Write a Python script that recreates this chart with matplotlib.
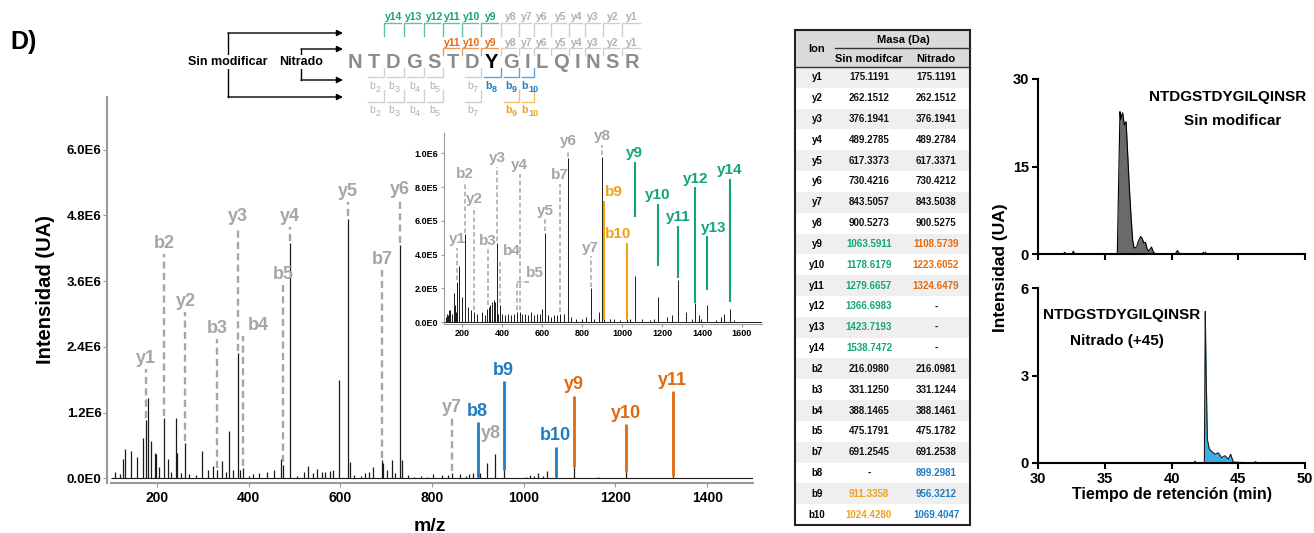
import numpy as np
import matplotlib
matplotlib.use('Agg')
import matplotlib.pyplot as plt
from matplotlib.font_manager import FontProperties

plt.rcParams['font.family'] = ['Liberation Sans', 'DejaVu Sans']

W, H = 1314, 533

# colours
c_green = '#14a37c'
c_orange = '#e2690f'
c_blue = '#1f7dc2'
c_gold = '#eea215'
c_grey = '#a6a6a6'
c_seq = '#8c8c8c'

# ---------------- fragment table (Da)
ion_names = ['y1', 'y2', 'y3', 'y4', 'y5', 'y6', 'y7', 'y8', 'y9', 'y10', 'y11', 'y12', 'y13', 'y14',
             'b2', 'b3', 'b4', 'b5', 'b7', 'b8', 'b9', 'b10']
mass_unmod = [175.1191, 262.1512, 376.1941, 489.2785, 617.3373, 730.4216, 843.5057, 900.5273,
              1063.5911, 1178.6179, 1279.6657, 1366.6983, 1423.7193, 1538.7472,
              216.0980, 331.1250, 388.1465, 475.1791, 691.2545, None, 911.3358, 1024.4280]
mass_nitr = [175.1191, 262.1512, 376.1941, 489.2784, 617.3371, 730.4212, 843.5038, 900.5275,
             1108.5739, 1223.6052, 1324.6479, None, None, None,
             216.0981, 331.1244, 388.1461, 475.1782, 691.2538, 899.2981, 956.3212, 1069.4047]

# ---------------- MS/MS spectrum, nitrated peptide (intensity x1E6)
spec_mz = [108, 119, 126.5, 130, 142.6, 155.7, 168.8, 175.1, 180, 186, 195.6, 198, 205, 216.1, 224.7,
           230, 241, 244, 252, 262.2, 270, 285, 297.5, 311, 322, 331.1, 341, 350, 357.8, 365, 376.2,
           380, 388.1, 400, 410, 423, 439, 455, 470.5, 475.2, 489.3, 505, 520.8, 530, 541, 550, 559,
           566.5, 577.5, 585, 598, 617.3, 621, 630, 645, 654, 663, 672, 691.3, 694, 701, 712, 719,
           730.4, 734, 747.7, 760, 775, 790, 803, 821, 835, 843.5, 861, 875, 881, 890, 900.5, 905,
           919.4, 937.5, 956.3, 1004.5, 1014, 1022.6, 1032, 1041, 1050, 1069.4, 1108.6, 1163,
           1223.6, 1324.6]
spec_int = [0.11, 0.08, 0.36, 0.53, 0.49, 0.38, 0.73, 1.06, 1.46, 0.68, 0.47, 0.45, 0.2, 1.1, 0.36,
            0.12, 1.1, 0.47, 0.1, 0.64, 0.08, 0.06, 0.49, 0.15, 0.22, 0.15, 0.32, 0.12, 0.86, 0.15, 2.28,
            0.15, 0.18, 0.05, 0.07, 0.1, 0.12, 0.15, 0.36, 0.25, 4.29, 0.05, 0.12, 0.22, 0.1, 0.17, 0.12,
            0.12, 0.13, 0.15, 1.79, 4.74, 0.3, 0.06, 0.05, 0.1, 0.12, 0.2, 0.33, 0.28, 0.15, 0.33, 0.1,
            4.25, 0.33, 0.06, 0.03, 0.04, 0.03, 0.08, 0.06, 0.06, 0.1, 0.08, 0.05, 0.07, 0.09, 0.75, 0.1,
            0.27, 0.44, 0.15, 0.03, 0.06, 0.05, 0.1, 0.05, 0.13, 0.05, 0.2, 0.03,
            0.12, 0.05]

nit_grey_ions = ['y1', 'b2', 'y2', 'b3', 'y3', 'b4', 'b5', 'y4', 'y5', 'b7', 'y6', 'y7', 'y8']
nit_grey_top = [2.0, 4.1, 3.03, 2.55, 4.58, 2.6, 3.52, 4.58, 5.04, 3.8, 5.07, 1.1, 0.75]
nit_col_ions = ['b8', 'b9', 'b10', 'y9', 'y10', 'y11']
nit_col_top = [1.02, 1.77, 0.58, 1.51, 0.99, 1.59]
nit_col_base = [0.03, 0.15, 0.02, 0.2, 0.12, 0.05]

# ---------------- inset spectrum, unmodified peptide (x1E6)
ins_mz = [118, 125, 130, 136, 142, 150, 158, 163, 170, 175.1, 186.1, 198, 216.1, 230, 244, 262.2,
          275, 299, 315, 324, 333, 341, 350, 358, 366, 376.2, 381, 388.1, 400, 415, 430, 445, 460,
          475.2, 489.3, 498, 515, 530, 545, 560, 575, 590, 600, 617.3, 630, 645, 660, 675, 691.3,
          710, 730.4, 745, 770, 800, 820, 843.5, 860, 883, 900.5, 911.3, 940, 960, 990, 1024.4,
          1040, 1063.6, 1100, 1140, 1160, 1178.6, 1226, 1249, 1279.7, 1318, 1350, 1366.7, 1384,
          1395, 1423.7, 1470, 1497, 1509, 1538.7, 1560]
ins_int = [0.03, 0.05, 0.04, 0.07, 0.07, 0.05, 0.17, 0.1, 0.06, 0.24, 0.33, 0.15, 0.52, 0.09, 0.07,
           0.06, 0.05, 0.06, 0.04, 0.08, 0.09, 0.1, 0.12, 0.13, 0.12, 0.47, 0.05, 0.1, 0.05, 0.04,
           0.05, 0.04, 0.05, 0.06, 0.06, 0.05, 0.05, 0.04, 0.06, 0.04, 0.05, 0.05, 0.08, 0.53, 0.04,
           0.03, 0.04, 0.04, 0.05, 0.05, 0.97, 0.03, 0.02, 0.02, 0.03, 0.2, 0.02, 0.06, 0.98, 0.05,
           0.02, 0.02, 0.01, 0.02, 0.02, 0.27, 0.02, 0.01, 0.02, 0.15, 0.03, 0.04, 0.25, 0.06, 0.02,
           0.11, 0.04, 0.02, 0.1, 0.01, 0.03, 0.05, 0.08, 0.01]

unm_grey_ions = ['y1', 'b2', 'y2', 'b3', 'y3', 'b4', 'b5', 'y4', 'y5', 'b7', 'y6', 'y7', 'y8']
unm_grey_top = [0.44, 0.83, 0.68, 0.43, 0.92, 0.37, 0.24, 0.88, 0.61, 0.82, 1.02, 0.39, 1.05]
unm_col_ions = ['b9', 'b10', 'y9', 'y10', 'y11', 'y12', 'y13', 'y14']
unm_col_top = [0.72, 0.47, 0.95, 0.70, 0.57, 0.80, 0.51, 0.85]
unm_col_base = [0.01, 0.01, 0.62, 0.33, 0.26, 0.11, 0.19, 0.12]

# ---------------- extracted ion chromatograms
top_t = [30.0, 31.9, 32.0, 32.1, 32.55, 32.65, 32.75, 35.94, 36.14, 36.2, 36.27, 36.34, 36.47, 36.6,
         36.69, 36.84, 36.97, 37.09, 37.2, 37.39, 37.5, 37.69, 37.8, 37.93, 38.05, 38.17, 38.3, 38.5,
         38.65, 38.8, 40.3, 40.44, 40.6, 42.3, 42.38, 42.46, 42.55, 42.62, 50.0]
top_i = [0, 0, 0.3, 0, 0, 0.5, 0, 0, 24.4, 23.0, 23.8, 24.2, 22.1, 22.7, 18.4, 11.5, 6.4, 2.4, 1.0,
         1.2, 2.1, 3.0, 2.7, 1.9, 2.0, 0.9, 0.5, 1.2, 0.3, 0.05, 0.05, 0.6, 0.05, 0, 0.3, 0, 0.3, 0, 0]
bot_t = [30.0, 41.7, 41.76, 41.82, 42.46, 42.53, 42.58, 42.64, 42.69, 42.83, 43.0, 43.26, 43.5,
         43.76, 44.0, 44.26, 44.43, 44.63, 46.2, 46.3, 46.4, 50.0]
bot_i = [0, 0, 0.07, 0, 0, 5.2, 3.5, 1.93, 0.8, 0.48, 0.4, 0.3, 0.35, 0.18, 0.25, 0.13, 0.3, 0.03,
         0, 0.05, 0, 0]

seq = 'NTDGSTDYGILQINSR'
nitro_site = 7


def mass_of(ion, table):
    return table[ion_names.index(ion)]


def local_height(mzs, ints, mz, tol=2.0):
    near = [i for m, i in zip(mzs, ints) if abs(m - mz) <= tol]
    return max(near) if near else 0.0


fig = plt.figure(figsize=(W / 100, H / 100), dpi=100)

# full-figure layer in pixel units for the scheme and the table
ov = fig.add_axes([0, 0, 1, 1], zorder=0)
ov.set_xlim(0, W)
ov.set_ylim(H, 0)
ov.axis('off')

ov.text(10, 42, 'D)', fontsize=18, fontweight='bold', va='center', ha='left')


def style_spec_axes(a, grey='#9a9a9a'):
    for s in ['top', 'right']:
        a.spines[s].set_visible(False)
    for s in ['left', 'bottom']:
        a.spines[s].set_color(grey)
    a.tick_params(colors=grey, labelcolor='black', direction='out')


# ---------------- main spectrum
ax = fig.add_axes([107 / W, 1 - 483 / H, 646 / W, 386 / H], facecolor='none', zorder=2)
ax.vlines(spec_mz, 0, spec_int, color='#1a1a1a', lw=0.9)
ax.hlines(0, 100, 1500, color='#1a1a1a', lw=0.8)
fs_main = 13
main_shift = {'b4': (11, 0), 'y8': (9, -5)}
for ion, top in zip(nit_grey_ions, nit_grey_top):
    mz = mass_of(ion, mass_nitr)
    base = local_height(spec_mz, spec_int, mz)
    if top > base:
        ax.plot([mz, mz], [base + 0.04, top], ls=(0, (3, 1.8)), color=c_grey, lw=1.7)
    dx, dy = main_shift.get(ion, (0, 0))
    ax.annotate(ion, (mz, top), xytext=(dx, 1.5 + dy), textcoords='offset points',
                ha='center', va='bottom', color=c_grey, fontsize=fs_main, fontweight='bold')
for ion, top, base in zip(nit_col_ions, nit_col_top, nit_col_base):
    mz = mass_of(ion, mass_nitr)
    col = c_blue if ion.startswith('b') else c_orange
    ax.plot([mz, mz], [base, top], color=col, lw=2, solid_capstyle='butt')
    ax.annotate(ion, (mz, top), xytext=(0, 1.5), textcoords='offset points',
                ha='center', va='bottom', color=col, fontsize=fs_main, fontweight='bold')

ax.set_xlim(91, 1500)
ax.set_ylim(-0.086, 6.96)
style_spec_axes(ax)
ax.spines['left'].set_linewidth(1.5)
ax.spines['bottom'].set_linewidth(1.5)
ax.spines['bottom'].set_bounds(100, 1500)
main_yticks = [0, 1.2, 2.4, 3.6, 4.8, 6.0]
main_ylabels = ['0.0E0', '1.2E6', '2.4E6', '3.6E6', '4.8E6', '6.0E6']
ax.set_yticks(main_yticks)
ax.set_yticklabels(main_ylabels, fontsize=9.5, fontweight='bold')
ax.set_xticks([200, 400, 600, 800, 1000, 1200, 1400])
ax.set_xticklabels(['200', '400', '600', '800', '1000', '1200', '1400'], fontsize=10,
                   fontweight='bold')
ax.tick_params(axis='y', length=3, pad=1)
ax.tick_params(axis='x', length=3, pad=3)
ax.set_xlabel('m/z', fontsize=14, fontweight='bold', labelpad=9)
ax.set_ylabel('Intensidad (UA)', fontsize=14.5, fontweight='bold', labelpad=8)

# ---------------- inset: unmodified peptide
ins = fig.add_axes([444 / W, 1 - 323.7 / H, 318 / W, 190.7 / H], facecolor='none', zorder=3)
ins.vlines(ins_mz, 0, ins_int, color='#1a1a1a', lw=0.7)
ins.hlines(0, 110, 1700, color='#1a1a1a', lw=0.7)
fs_ins = 11
ins_shift = {'b4': (9, 0), 'b5': (13, 0), 'y13': (5, 0)}
for ion, top in zip(unm_grey_ions, unm_grey_top):
    mz = mass_of(ion, mass_unmod)
    base = local_height(ins_mz, ins_int, mz)
    if top > base:
        ins.plot([mz, mz], [base + 0.01, top], ls=(0, (3, 1.8)), color=c_grey, lw=1.1)
    if ion == 'b5':
        ins.plot([mz, mz + 70], [top, top], ls=(0, (3, 1.8)), color=c_grey, lw=1.1)
    dx, dy = ins_shift.get(ion, (0, 0))
    ins.annotate(ion, (mz, top), xytext=(dx, 1 + dy), textcoords='offset points',
                 ha='center', va='bottom', color=c_grey, fontsize=fs_ins, fontweight='bold')
ins_col_shift = {'b9': (7, 0), 'b10': (-6, 0), 'y13': (5, 0)}
for ion, top, base in zip(unm_col_ions, unm_col_top, unm_col_base):
    mz = mass_of(ion, mass_unmod)
    col = c_gold if ion.startswith('b') else c_green
    ins.plot([mz, mz], [base, top], color=col, lw=1.5, solid_capstyle='butt')
    dx, dy = ins_col_shift.get(ion, (0, 0))
    ins.annotate(ion, (mz, top), xytext=(dx, 1 + dy), textcoords='offset points',
                 ha='center', va='bottom', color=col, fontsize=fs_ins, fontweight='bold')
ins.set_xlim(110, 1700)
ins.set_ylim(-0.01, 1.12)
style_spec_axes(ins)
ins.set_yticks([0, 0.2, 0.4, 0.6, 0.8, 1.0])
ins.set_yticklabels(['0.0E0', '2.0E5', '4.0E5', '6.0E5', '8.0E5', '1.0E6'], fontsize=6.5,
                    fontweight='bold')
ins.set_xticks([200, 400, 600, 800, 1000, 1200, 1400, 1600])
ins.set_xticklabels(['200', '400', '600', '800', '1000', '1200', '1400', '1600'], fontsize=6.5,
                    fontweight='bold')
ins.tick_params(length=2, pad=2)

# ---------------- peptide scheme
rend = fig.canvas.get_renderer()
fp_seq = FontProperties(family='Liberation Sans', weight='bold', size=14.5)


def ink_width(s, fp):
    w, h, d = rend.get_text_width_height_descent(s, fp, ismath=False)
    return w


spaced = ' '.join(seq)
raw = []
for i, ch in enumerate(seq):
    k = 2 * i
    raw.append(ink_width(spaced[:k + 1], fp_seq) - ink_width(ch, fp_seq) / 2)
raw = np.array(raw)
cx = 355 + (raw - raw[0]) * (632 - 355) / (raw[-1] - raw[0])
seq_y = 62
for i, ch in enumerate(seq):
    ov.text(cx[i], seq_y, ch, fontproperties=fp_seq, ha='center', va='center',
            color='black' if i == nitro_site else c_seq)

bnd = (cx[:-1] + cx[1:]) / 2   # boundary after residue i
n = len(seq)
fs_ion = 7.5


def y_row(label_y, line_y, drop, ions, coloured, col, col_line):
    for k in ions:
        j = n - k
        bx = bnd[j - 1]
        right = bnd[j] - 3 if j < n - 1 else cx[j] + 8
        on = k in coloured
        lc = col_line if on else '#cfcfcf'
        ov.plot([bx, bx, right], [line_y + drop, line_y, line_y], color=lc, lw=1)
        ov.text(cx[j], label_y, 'y%d' % k, ha='center', va='center', fontsize=fs_ion,
                fontweight='bold', color=col if on else '#b0b0b0')


def b_row(label_y, line_y, rise, ions, coloured, col, col_line):
    for k in ions:
        j = k - 1
        bx = bnd[j]
        left = bnd[j - 1] + 3
        on = k in coloured
        lc = col_line if on else '#cfcfcf'
        ov.plot([left, bx, bx], [line_y, line_y, line_y - rise], color=lc, lw=1)
        tc = col if on else '#b0b0b0'
        fw = 'bold' if on else 'normal'
        ov.text(cx[j] + 1, label_y, 'b', ha='right', va='center', fontsize=fs_ion,
                fontweight=fw, color=tc)
        ov.text(cx[j] + 1, label_y + 3, str(k), ha='left', va='center', fontsize=fs_ion - 1,
                fontweight=fw, color=tc)


y_row(17, 23, 13, range(1, 15), range(9, 15), c_green, '#5cc2a2')
y_row(43, 48, 7, range(1, 12), range(9, 12), c_orange, '#ee9a5c')
b_row(86, 77, 9, [2, 3, 4, 5, 7, 8, 9, 10], [8, 9, 10], c_blue, '#5aa6dc')
b_row(110, 102, 12, [2, 3, 4, 5, 7, 9, 10], [9, 10], c_gold, '#f3c060')

# arrows into the scheme
arr = dict(arrowstyle='-|>', mutation_scale=9, lw=1, color='black', shrinkA=0, shrinkB=0)
ov.plot([228, 228], [33, 97], color='black', lw=1)
ov.plot([301, 301], [49, 80], color='black', lw=1)
for yy, x0 in [(33, 228), (97, 228), (49, 301), (80, 301)]:
    ov.annotate('', xy=(343, yy), xytext=(x0, yy), arrowprops=arr)
ov.text(228, 62, 'Sin modificar', ha='center', va='center', fontsize=9, fontweight='bold',
        bbox=dict(facecolor='white', edgecolor='none', pad=1))
ov.text(301, 62, 'Nitrado', ha='center', va='center', fontsize=9, fontweight='bold',
        bbox=dict(facecolor='white', edgecolor='none', pad=1))

# ---------------- fragment table
t_left, t_right, t_top, t_head = 795, 970, 30, 67
row_h = (525 - t_head) / len(ion_names)
col_ion, col_unm, col_nit = 817, 869, 936
ov.add_patch(plt.Rectangle((t_left, t_top), t_right - t_left, t_head - t_top,
                           facecolor='#dadada', edgecolor='none'))
for r in range(len(ion_names)):
    if r % 2 == 0:
        ov.add_patch(plt.Rectangle((t_left, t_head + r * row_h), t_right - t_left, row_h,
                                   facecolor='#efefef', edgecolor='none'))
ov.add_patch(plt.Rectangle((t_left, t_top), t_right - t_left, 525 - t_top,
                           facecolor='none', edgecolor='#222222', lw=1.5))
ov.plot([835, t_right], [48, 48], color='#333333', lw=1)
ov.plot([t_left, t_right], [t_head, t_head], color='#333333', lw=1)
fs_t = 8
ov.text(col_ion, 48.5, 'Ion', ha='center', va='center', fontsize=fs_t, fontweight='bold')
ov.text(903, 40, 'Masa (Da)', ha='center', va='center', fontsize=fs_t, fontweight='bold')
ov.text(col_unm, 58.5, 'Sin modifcar', ha='center', va='center', fontsize=fs_t,
        fontweight='bold')
ov.text(col_nit, 58.5, 'Nitrado', ha='center', va='center', fontsize=fs_t, fontweight='bold')


def unm_colour(ion):
    if ion in ('y9', 'y10', 'y11', 'y12', 'y13', 'y14'):
        return c_green
    if ion in ('b9', 'b10'):
        return c_gold
    return '#111111'


def nit_colour(ion):
    if ion in ('y9', 'y10', 'y11'):
        return c_orange
    if ion in ('b8', 'b9', 'b10'):
        return c_blue
    return '#111111'


fs_cell = 7
for r, ion in enumerate(ion_names):
    yy = t_head + (r + 0.5) * row_h
    ov.text(col_ion, yy, ion, ha='center', va='center', fontsize=fs_cell, fontweight='bold')
    mu, mn = mass_unmod[r], mass_nitr[r]
    ov.text(col_unm, yy, '-' if mu is None else '%.4f' % mu, ha='center', va='center',
            fontsize=fs_cell, fontweight='bold',
            color='#111111' if mu is None else unm_colour(ion))
    ov.text(col_nit, yy, '-' if mn is None else '%.4f' % mn, ha='center', va='center',
            fontsize=fs_cell, fontweight='bold',
            color='#111111' if mn is None else nit_colour(ion))


# ---------------- chromatograms
def style_chrom(a, ymax, yt):
    for s in ['top', 'right']:
        a.spines[s].set_visible(False)
    for s in ['left', 'bottom']:
        a.spines[s].set_linewidth(1.5)
    a.set_xlim(30, 50)
    a.set_ylim(0, ymax)
    a.set_yticks(yt)
    a.set_xticks([30, 35, 40, 45, 50])
    a.tick_params(direction='out', length=4.5, width=1.5, pad=2, labelsize=10.5)
    for lab in a.get_xticklabels() + a.get_yticklabels():
        lab.set_fontweight('bold')


fs_title = 11
cha = fig.add_axes([1038 / W, 1 - 254 / H, 267 / W, 175 / H], facecolor='none', zorder=2)
cha.fill_between(top_t, 0, top_i, color='#6a6a6a', lw=0)
cha.plot(top_t, top_i, color='black', lw=0.8)
style_chrom(cha, 30, [0, 15, 30])
cha.set_xticklabels([])
cha.text(44.2, 26.9, 'NTDGSTDYGILQINSR', ha='center', va='center', fontsize=fs_title,
         fontweight='bold')
cha.text(44.6, 22.8, 'Sin modificar', ha='center', va='center', fontsize=fs_title,
         fontweight='bold')

chb = fig.add_axes([1038 / W, 1 - 463 / H, 267 / W, 175 / H], facecolor='none', zorder=2)
chb.fill_between(bot_t, 0, bot_i, color='#3aaee8', lw=0)
chb.plot(bot_t, bot_i, color='#1a1a1a', lw=0.8)
style_chrom(chb, 6, [0, 3, 6])
chb.text(36.3, 5.07, 'NTDGSTDYGILQINSR', ha='center', va='center', fontsize=fs_title,
         fontweight='bold')
chb.text(35.9, 4.2, 'Nitrado (+45)', ha='center', va='center', fontsize=fs_title,
         fontweight='bold')
chb.set_xlabel('Tiempo de retención (min)', fontsize=11.5, fontweight='bold', labelpad=1)
fig.text(1000 / W, 1 - 268 / H, 'Intensidad (UA)', rotation=90, ha='center', va='center',
         fontsize=12.5, fontweight='bold')

fig.savefig('out.png', dpi=100)
